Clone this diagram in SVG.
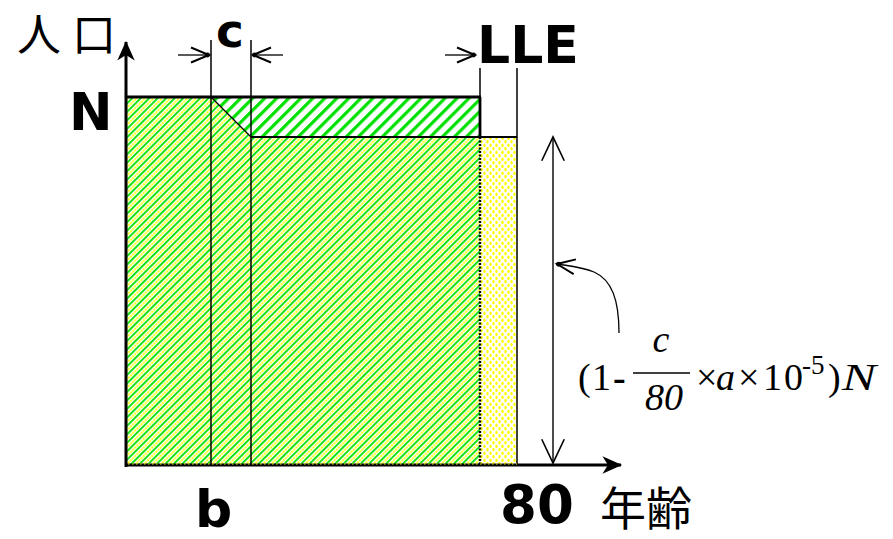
<svg xmlns="http://www.w3.org/2000/svg" width="893" height="539" viewBox="0 0 893 539">
<style>
.lbl{font-family:"DejaVu Sans","Liberation Sans",sans-serif;font-weight:bold;font-size:52px;fill:#000}
.cjk{font-family:"Noto Sans CJK JP","Noto Sans CJK SC",sans-serif;font-size:44px;fill:#000}
.f{font-family:"Liberation Serif","DejaVu Serif",serif;font-size:38px;fill:#000}
.it{font-style:italic}
.ln{stroke:#000;fill:none}
</style>
<defs>
<pattern id="gy" patternUnits="userSpaceOnUse" width="6" height="6" patternTransform="rotate(-45)">
<rect width="6" height="6" fill="#fff"/>
<rect y="0" width="6" height="1.8" fill="#00e000"/>
<rect x="0.3" y="3.1" width="2" height="1.9" fill="#ffff00"/>
<rect x="3.3" y="3.1" width="2" height="1.9" fill="#ffff00"/>
</pattern>
<pattern id="g" patternUnits="userSpaceOnUse" width="8.5" height="8.5" patternTransform="rotate(-45)">
<rect width="8.5" height="8.5" fill="#fff"/>
<rect width="8.5" height="3.2" fill="#00e000"/>
</pattern>
<pattern id="y" patternUnits="userSpaceOnUse" width="6" height="7">
<rect width="6" height="7" fill="#fff"/>
<ellipse cx="1.5" cy="1.75" rx="1.2" ry="1.8" fill="#ffff00"/>
<ellipse cx="4.5" cy="5.25" rx="1.2" ry="1.8" fill="#ffff00"/>
</pattern>
<marker id="open" markerUnits="userSpaceOnUse" markerWidth="24" markerHeight="24" viewBox="-14 -8 16 16" refX="0" refY="0" orient="auto">
<path d="M-12,-5 L0,0 L-12,5" fill="none" stroke="#000" stroke-width="1.3"/>
<circle cx="-1" cy="0" r="1.6" fill="#000"/>
</marker>
<marker id="big" markerUnits="userSpaceOnUse" markerWidth="30" markerHeight="30" viewBox="-22 -12 24 24" refX="0" refY="0" orient="auto">
<path d="M-19,-9 L0,0 L-19,9" fill="none" stroke="#000" stroke-width="1.3"/>
</marker>
<marker id="ax" markerUnits="userSpaceOnUse" markerWidth="24" markerHeight="24" viewBox="-20 -10 22 20" refX="0" refY="0" orient="auto">
<path d="M1,0 L-17,-8 L-12,0 L-17,8 Z" fill="#000"/>
</marker>
</defs>

<g id="regions">
<polygon id="regionGY" points="126,97 211,97 251,137 480,137 480,465 126,465" fill="url(#gy)"/>
<polygon id="regionG" points="211,97 480,97 480,137 251,137" fill="url(#g)"/>
<rect id="regionY" x="480" y="137" width="37" height="328" fill="url(#y)"/>
</g>

<g id="connectors">
<line class="ln" x1="211" y1="40" x2="211" y2="465" stroke-width="1.5"/>
<line class="ln" x1="251" y1="40" x2="251" y2="465" stroke-width="1.5"/>
<line class="ln" x1="211" y1="97" x2="251" y2="137" stroke-width="1.3"/>
<line class="ln" x1="251" y1="137" x2="517" y2="137" stroke-width="1.8"/>
<line class="ln" x1="126" y1="97" x2="481" y2="97" stroke-width="2.8"/>
<line class="ln" x1="480" y1="68" x2="480" y2="97" stroke-width="1.5"/>
<line class="ln" x1="480" y1="97" x2="480" y2="137" stroke-width="2.8"/>
<line class="ln" x1="480" y1="137" x2="480" y2="465" stroke-width="2.4" stroke-dasharray="2 1.5"/>
<line class="ln" x1="517" y1="68" x2="517" y2="465" stroke-width="1.5"/>
<line class="ln" x1="126" y1="467" x2="126" y2="42" stroke-width="3" marker-end="url(#ax)"/>
<line class="ln" x1="125" y1="465" x2="621" y2="465" stroke-width="3" marker-end="url(#ax)"/>
<line x1="128" y1="464" x2="517" y2="464" stroke="#ffff00" stroke-width="1" stroke-dasharray="1.5 2.5"/>
<line class="ln" x1="178" y1="55" x2="209" y2="55" stroke-width="1.3" marker-end="url(#open)"/>
<line class="ln" x1="283" y1="55" x2="253" y2="55" stroke-width="1.3" marker-end="url(#open)"/>
<line class="ln" x1="445" y1="55" x2="475" y2="55" stroke-width="1.3" marker-end="url(#open)"/>
<line class="ln" x1="553" y1="300" x2="553" y2="137" stroke-width="1.4" marker-end="url(#big)"/>
<line class="ln" x1="553" y1="300" x2="553" y2="463" stroke-width="1.4" marker-end="url(#big)"/>
<path class="ln" d="M619,333 C619,300 612,280 594,272 C582,267 570,266 557,264" stroke-width="1.3" marker-end="url(#open)"/>
</g>

<g id="labels">
<text class="cjk" x="17" y="51">人</text>
<text class="cjk" x="72" y="51">口</text>
<text class="lbl" x="69" y="130">N</text>
<text class="lbl" x="216" y="47" style="font-size:47px">c</text>
<text class="lbl" x="477" y="63">LLE</text>
<text class="lbl" x="195" y="527">b</text>
<text class="lbl" x="500" y="523" style="font-size:53px">80</text>
<text class="cjk" x="600" y="525" style="font-size:46px">年齢</text>
</g>

<g id="formula">
<text class="f" x="578" y="390">(</text>
<text class="f" x="592" y="390">1</text>
<text class="f" x="613" y="390" style="font-weight:bold">-</text>
<text class="f it" x="661" y="352" text-anchor="middle">c</text>
<line class="ln" x1="633" y1="373" x2="690" y2="373" stroke-width="1.5"/>
<text class="f it" x="664" y="410" text-anchor="middle">80</text>
<text class="f" x="696" y="390">×</text>
<text class="f it" x="716" y="390">a</text>
<text class="f" x="738" y="390">×</text>
<text class="f" x="763" y="390">1</text>
<text class="f" x="784" y="390">0</text>
<text class="f" x="802" y="374" style="font-size:27px">-5</text>
<text class="f" x="828" y="390">)</text>
<text class="f it" x="842" y="390" textLength="34" lengthAdjust="spacingAndGlyphs">N</text>
</g>
</svg>
